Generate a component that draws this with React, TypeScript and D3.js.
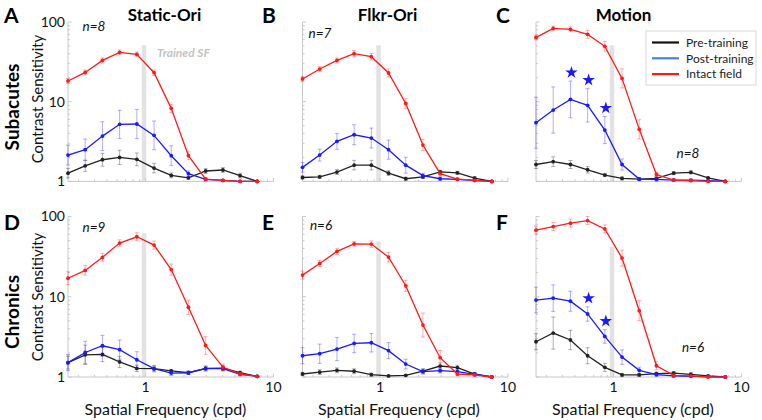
import React from "react";
import * as d3 from "d3";

// Spatial frequencies (cpd)
const SF = [0.248, 0.338, 0.461, 0.628, 0.856, 1.167, 1.59, 2.167, 2.954, 4.03, 5.49, 7.48];
const TRAINED_SF = 0.97;

// ---- Subacutes ----
const staticSubRed = [18.2, 23.3, 33, 41.6, 39.3, 23.1, 8.25, 2.1, 1.07, 1.03, 1.0, 1.0];
const staticSubBlue = [2.14, 2.5, 3.7, 5.2, 5.25, 3.78, 2.1, 1.25, 1.06, 1.03, 1.0, 1.0];
const staticSubBlack = [1.27, 1.57, 1.87, 2.0, 1.89, 1.47, 1.19, 1.11, 1.35, 1.39, 1.18, 1.0];
const staticSubRedErr = [0.03, 0.03, 0.03, 0.03, 0.03, 0.035, 0.05, 0.05, 0.02, 0.01, 0.01, 0.0];
const staticSubBlueErr = [0.125, 0.134, 0.18, 0.176, 0.184, 0.18, 0.125, 0.035, 0.017, 0.01, 0.01, 0.0];
const staticSubBlackErr = [0.06, 0.07, 0.08, 0.09, 0.08, 0.06, 0.03, 0.02, 0.03, 0.03, 0.03, 0.0];

const flkrSubRed = [19.3, 25.7, 33, 40, 36.7, 22.9, 9.5, 2.86, 1.25, 1.07, 1.03, 1.0];
const flkrSubBlue = [1.5, 2.14, 3.18, 3.85, 3.5, 2.5, 1.6, 1.18, 1.08, 1.06, 1.03, 1.0];
const flkrSubBlack = [1.12, 1.14, 1.31, 1.6, 1.6, 1.27, 1.08, 1.14, 1.32, 1.28, 1.1, 1.0];
const flkrSubRedErr = [0.03, 0.03, 0.03, 0.04, 0.04, 0.05, 0.06, 0.07, 0.03, 0.01, 0.01, 0.0];
const flkrSubBlueErr = [0.06, 0.075, 0.1, 0.125, 0.125, 0.12, 0.1, 0.03, 0.02, 0.01, 0.01, 0.0];
const flkrSubBlackErr = [0.02, 0.02, 0.03, 0.06, 0.06, 0.03, 0.02, 0.02, 0.02, 0.02, 0.02, 0.0];

const motionSubRed = [64, 83, 81, 70, 49.5, 19.6, 4.5, 1.22, 1.04, 1.02, 1.0, 1.0];
const motionSubBlue = [5.45, 7.86, 10.7, 9.0, 4.41, 1.63, 1.07, 1.06, 1.04, 1.04, 1.02, 1.0];
const motionSubBlack = [1.63, 1.77, 1.63, 1.4, 1.2, 1.09, 1.07, 1.09, 1.27, 1.3, 1.11, 1.0];
const motionSubRedErr = [0.03, 0.03, 0.03, 0.05, 0.06, 0.12, 0.12, 0.03, 0.01, 0.01, 0.01, 0.0];
const motionSubBlueErr = [0.32, 0.29, 0.23, 0.21, 0.17, 0.07, 0.02, 0.02, 0.02, 0.01, 0.01, 0.0];
const motionSubBlackErr = [0.05, 0.06, 0.05, 0.04, 0.02, 0.02, 0.01, 0.02, 0.02, 0.02, 0.01, 0.0];

// ---- Chronics ----
const staticChrRed = [17, 21.3, 31, 46.7, 55.9, 44, 21.8, 7.4, 2.47, 1.33, 1.09, 1.02];
const staticChrBlue = [1.51, 2.02, 2.45, 2.19, 1.64, 1.27, 1.12, 1.13, 1.27, 1.27, 1.08, 1.02];
const staticChrBlack = [1.51, 1.89, 1.91, 1.54, 1.28, 1.27, 1.19, 1.13, 1.28, 1.29, 1.13, 1.02];
const staticChrRedErr = [0.08, 0.06, 0.05, 0.04, 0.05, 0.05, 0.07, 0.09, 0.11, 0.04, 0.02, 0.01];
const staticChrBlueErr = [0.1, 0.14, 0.13, 0.12, 0.1, 0.04, 0.03, 0.02, 0.03, 0.03, 0.02, 0.01];
const staticChrBlackErr = [0.08, 0.12, 0.09, 0.07, 0.04, 0.03, 0.02, 0.02, 0.03, 0.03, 0.02, 0.01];

const flkrChrRed = [18.6, 26, 36.7, 45.7, 45.3, 31.2, 13.7, 4.44, 1.74, 1.09, 1.06, 1.0];
const flkrChrRedErr = [0.05, 0.04, 0.04, 0.03, 0.04, 0.06, 0.07, 0.15, 0.09, 0.02, 0.01, 0.0];
const flkrChrBlue = [1.84, 1.95, 2.23, 2.62, 2.67, 2.13, 1.45, 1.17, 1.2, 1.17, 1.08, 1.0];
const flkrChrBlueErr = [0.1, 0.12, 0.145, 0.115, 0.115, 0.1, 0.06, 0.03, 0.03, 0.03, 0.02, 0.0];
const flkrChrBlack = [1.09, 1.15, 1.21, 1.18, 1.07, 1.03, 1.05, 1.18, 1.37, 1.31, 1.09, 1.0];
const flkrChrBlackErr = [0.02, 0.03, 0.03, 0.03, 0.02, 0.01, 0.01, 0.03, 0.04, 0.03, 0.02, 0.0];

const motionChrRed = [67.6, 75, 82.6, 89, 70, 30.3, 6.7, 1.38, 1.05, 1.03, 1.0, 1.0];
const motionChrRedErr = [0.05, 0.05, 0.05, 0.05, 0.05, 0.1, 0.125, 0.05, 0.02, 0.01, 0.01, 0.0];
const motionChrBlue = [9.1, 9.6, 8.8, 6.1, 3.2, 1.77, 1.21, 1.07, 1.03, 1.02, 1.01, 1.0];
const motionChrBlueErr = [0.16, 0.165, 0.125, 0.09, 0.085, 0.09, 0.04, 0.02, 0.01, 0.01, 0.01, 0.0];
const motionChrBlack = [2.75, 3.53, 2.89, 1.84, 1.32, 1.06, 1.06, 1.1, 1.12, 1.08, 1.03, 1.0];
const motionChrBlackErr = [0.1, 0.2, 0.12, 0.1, 0.05, 0.02, 0.02, 0.02, 0.02, 0.02, 0.01, 0.0];

const panelLetters = ["A", "B", "C", "D", "E", "F"];
const columnTitles = ["Static-Ori", "Flkr-Ori", "Motion"];
const rowTitles = ["Subacutes", "Chronics"];
const nLabels = ["n=8", "n=7", "n=8", "n=9", "n=6", "n=6"];
const starIdx = [[], [], [2, 3, 4], [], [], [3, 4]];
const barTopValues = [51, 51, 51, 62, 49, 42];
const legendLabels = ["Pre-training", "Post-training", "Intact field"];
const yTickValues = [1, 10, 100];
const xTickValues = [1, 10];

const RED = "#ff1a1a";
const BLUE = "#1a1aff";
const BLACK = "#222222";
const LEGEND_COLORS = ["#111111", "#4a7fd6", "#ff1a1a"];
const FONT = "Lato, 'Open Sans', sans-serif";

type Series = { v: number[]; e: number[]; color: string };

const panelSeries: Series[][] = [
  [
    { v: staticSubBlack, e: staticSubBlackErr, color: BLACK },
    { v: staticSubBlue, e: staticSubBlueErr, color: BLUE },
    { v: staticSubRed, e: staticSubRedErr, color: RED },
  ],
  [
    { v: flkrSubBlack, e: flkrSubBlackErr, color: BLACK },
    { v: flkrSubBlue, e: flkrSubBlueErr, color: BLUE },
    { v: flkrSubRed, e: flkrSubRedErr, color: RED },
  ],
  [
    { v: motionSubBlack, e: motionSubBlackErr, color: BLACK },
    { v: motionSubBlue, e: motionSubBlueErr, color: BLUE },
    { v: motionSubRed, e: motionSubRedErr, color: RED },
  ],
  [
    { v: staticChrBlack, e: staticChrBlackErr, color: BLACK },
    { v: staticChrBlue, e: staticChrBlueErr, color: BLUE },
    { v: staticChrRed, e: staticChrRedErr, color: RED },
  ],
  [
    { v: flkrChrBlack, e: flkrChrBlackErr, color: BLACK },
    { v: flkrChrBlue, e: flkrChrBlueErr, color: BLUE },
    { v: flkrChrRed, e: flkrChrRedErr, color: RED },
  ],
  [
    { v: motionChrBlack, e: motionChrBlackErr, color: BLACK },
    { v: motionChrBlue, e: motionChrBlueErr, color: BLUE },
    { v: motionChrRed, e: motionChrRedErr, color: RED },
  ],
];

// layout
const W = 762;
const H = 420;
const colLeft = [68, 302.5, 536];
const plotW = 205.4;
const rowY = [
  { bottom: 181.4, top: 22 },
  { bottom: 377, top: 216.5 },
];
const nPos = [
  [94, 31], [320, 38], [688, 158], [94, 232], [321, 230], [693, 352],
];

function Panel({ idx }: { idx: number }) {
  const col = idx % 3;
  const row = Math.floor(idx / 3);
  const left = colLeft[col];
  const x = d3.scaleLog().domain([SF[0], 10]).range([left, left + plotW]);
  const y = d3.scaleLog().domain([1, 100]).range([rowY[row].bottom, rowY[row].top]);
  const line = d3
    .line<number>()
    .x((_, i) => x(SF[i]))
    .y((d) => y(d));
  const yMinor = y.ticks().filter((t) => !yTickValues.includes(t));
  const xMinor = x.ticks().filter((t) => t >= SF[0] && !xTickValues.includes(t));
  const axisColor = "#c8c8c8";
  const series = panelSeries[idx];
  const blue = series[1];
  const star = d3.symbol(d3.symbolStar, 48)();
  const barX = x(TRAINED_SF);
  return (
    <g>
      {/* trained SF bar */}
      <rect
        x={barX - 2}
        y={y(barTopValues[idx])}
        width={4.5}
        height={y(1) - y(barTopValues[idx])}
        fill="#e2e2e2"
      />
      {/* axes */}
      <line x1={left} x2={left} y1={y(100)} y2={y(1)} stroke={axisColor} strokeWidth={1} />
      <line x1={left} x2={x(10)} y1={y(1)} y2={y(1)} stroke={axisColor} strokeWidth={1} />
      {yMinor.map((t) => (
        <line key={"ym" + t} x1={left} x2={left + 2} y1={y(t)} y2={y(t)} stroke={axisColor} />
      ))}
      {yTickValues.map((t) => (
        <line key={"yM" + t} x1={left} x2={left + 3.5} y1={y(t)} y2={y(t)} stroke={axisColor} />
      ))}
      {xMinor.map((t) => (
        <line key={"xm" + t} x1={x(t)} x2={x(t)} y1={y(1)} y2={y(1) - 2} stroke={axisColor} />
      ))}
      {xTickValues.map((t) => (
        <line key={"xM" + t} x1={x(t)} x2={x(t)} y1={y(1)} y2={y(1) - 3.5} stroke={axisColor} />
      ))}
      {col === 0 &&
        yTickValues.map((t) => (
          <text
            key={"yl" + t}
            x={left - 3}
            y={y(t)}
            dy="0.35em"
            textAnchor="end"
            fontFamily={FONT}
            fontSize={14}
            fill="#111"
          >
            {t}
          </text>
        ))}
      {row === 1 &&
        xTickValues.map((t) => (
          <text
            key={"xl" + t}
            x={x(t)}
            y={y(1) + 10}
            dy="0.35em"
            textAnchor="middle"
            fontFamily={FONT}
            fontSize={14}
            fill="#111"
          >
            {t}
          </text>
        ))}
      {/* series */}
      {series.map((s, si) => (
        <g key={"s" + si}>
          {s.v.map((v, i) => {
            const lo = v / Math.pow(10, s.e[i]);
            const hi = v * Math.pow(10, s.e[i]);
            const cx = x(SF[i]);
            return (
              <g key={"e" + i} stroke={s.color} strokeOpacity={0.35} strokeWidth={1}>
                <line x1={cx} x2={cx} y1={y(Math.max(lo, 1))} y2={y(hi)} />
                <line x1={cx - 2} x2={cx + 2} y1={y(hi)} y2={y(hi)} />
                <line x1={cx - 2} x2={cx + 2} y1={y(Math.max(lo, 1))} y2={y(Math.max(lo, 1))} />
              </g>
            );
          })}
          <path d={line(s.v) || ""} fill="none" stroke={s.color} strokeWidth={1.3} />
          {s.v.map((v, i) => (
            <circle key={"p" + i} cx={x(SF[i])} cy={y(v)} r={1.9} fill={s.color} />
          ))}
        </g>
      ))}
      {/* stars */}
      {starIdx[idx].map((i) => {
        const hi = blue.v[i] * Math.pow(10, blue.e[i]);
        return (
          <path
            key={"st" + i}
            d={star || ""}
            transform={`translate(${x(SF[i]) + 1},${y(hi) - 8.5})`}
            fill="#1a1aff"
          />
        );
      })}
      {/* n label */}
      <text
        x={nPos[idx][0]}
        y={nPos[idx][1]}
        textAnchor="middle"
        fontFamily={FONT}
        fontStyle="italic"
        fontSize={13.5}
        fill="#111"
      >
        {nLabels[idx]}
      </text>
    </g>
  );
}

export default function App() {
  const legendX = 646;
  const legendY = 31;
  return (
    <svg width={W} height={H} style={{ display: "block", position: "absolute", left: 0, top: 0 }}>
      <rect x={0} y={0} width={W} height={H} fill="#ffffff" />
      {[0, 1, 2, 3, 4, 5].map((i) => (
        <Panel key={i} idx={i} />
      ))}
      {/* panel letters */}
      {panelLetters.map((l, i) => (
        <text
          key={l}
          x={[4, 262, 496][i % 3]}
          y={i < 3 ? 23 : 230}
          fontFamily={FONT}
          fontWeight="bold"
          fontSize={21}
          fill="#000"
        >
          {l}
        </text>
      ))}
      {/* column titles */}
      {columnTitles.map((t, i) => (
        <text
          key={t}
          x={[164.5, 387.5, 623.5][i]}
          y={21}
          textAnchor="middle"
          fontFamily={FONT}
          fontWeight="bold"
          fontSize={17}
          fill="#000"
        >
          {t}
        </text>
      ))}
      {/* row titles */}
      {rowTitles.map((t, i) => (
        <text
          key={t}
          transform={`translate(19,${[107, 312][i]}) rotate(-90)`}
          textAnchor="middle"
          fontFamily={FONT}
          fontWeight="bold"
          fontSize={19}
          fill="#000"
        >
          {t}
        </text>
      ))}
      {/* y axis labels */}
      {[99, 297].map((cy, i) => (
        <text
          key={"yt" + i}
          transform={`translate(43,${cy}) rotate(-90)`}
          textAnchor="middle"
          fontFamily={FONT}
          fontSize={15}
          fill="#111"
        >
          Contrast Sensitivity
        </text>
      ))}
      {/* x axis labels */}
      {[165.5, 399, 633].map((cx, i) => (
        <text
          key={"xt" + i}
          x={cx}
          y={415}
          textAnchor="middle"
          fontFamily={FONT}
          fontSize={16}
          fill="#111"
        >
          Spatial Frequency (cpd)
        </text>
      ))}
      {/* trained SF label */}
      <text
        x={157}
        y={57}
        fontFamily={FONT}
        fontStyle="italic"
        fontWeight="bold"
        fontSize={12}
        fill="#c4c4c4"
      >
        Trained SF
      </text>
      {/* legend */}
      <g>
        <rect x={legendX} y={legendY} width={110} height={54} fill="#fff" stroke="#d8d8d8" strokeWidth={1} />
        {legendLabels.map((l, i) => (
          <g key={l}>
            <line
              x1={legendX + 6}
              x2={legendX + 33}
              y1={legendY + 11.5 + i * 15.8}
              y2={legendY + 11.5 + i * 15.8}
              stroke={LEGEND_COLORS[i]}
              strokeWidth={2.2}
            />
            <text
              x={legendX + 40}
              y={legendY + 11.5 + i * 15.8}
              dy="0.35em"
              fontFamily={FONT}
              fontSize={12}
              fill="#222"
            >
              {l}
            </text>
          </g>
        ))}
      </g>
    </svg>
  );
}
